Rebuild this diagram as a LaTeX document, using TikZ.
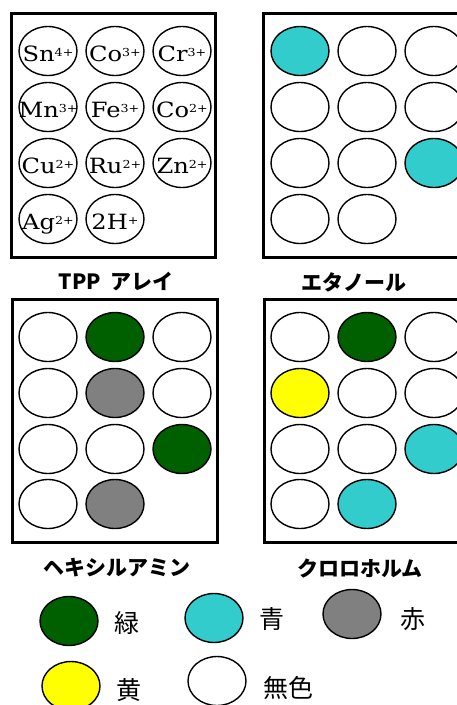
\documentclass[tikz,border=0pt]{standalone}
\usepackage{fontspec}
\setmainfont{DejaVu Serif}
\newfontfamily\ionfont[FakeStretch=1.15]{DejaVu Serif}
\newfontfamily\jp{Noto Sans CJK JP}
\usetikzlibrary{shapes.geometric}
\definecolor{cgreen}{RGB}{0,96,0}
\definecolor{ccyan}{RGB}{51,204,204}
\definecolor{cgray}{RGB}{128,128,128}
\definecolor{cyellow}{RGB}{255,255,0}
\newcommand\ionsup[1]{\raisebox{5pt}{\fontsize{11}{11}\selectfont #1}}
\begin{document}
\begin{tikzpicture}[x=1pt,y=-1pt,
  well/.style={draw=black,line width=1.4pt,ellipse,minimum width=58pt,minimum height=49pt,inner sep=0pt},
  plate/.style={draw=black,line width=3pt},
  ion/.style={inner sep=0pt,anchor=base,font=\ionfont\fontsize{21}{21}\selectfont},
  title/.style={inner sep=0pt,font=\jp\bfseries\fontsize{21}{21}\selectfont},
  legtxt/.style={inner sep=0pt,font=\jp\fontsize{25}{25}\selectfont}]
\useasboundingbox (0,0) rectangle (457,705);
\clip (0,0) rectangle (457,705);
\fill[white] (0,0) rectangle (457,705);

% plates
\draw[plate] (11,13) rectangle (215,257);
\draw[plate] (263,13) rectangle (468,257);
\draw[plate] (12,299) rectangle (217,542);
\draw[plate] (264,299) rectangle (469,542);

% plate 1: TPP array
\foreach \x/\y/\t [count=\i] in {
  48/51/{Sn\ionsup{4+}}, 115/51/{Co\ionsup{3+}}, 182/51/{Cr\ionsup{3+}},
  48/107/{Mn\ionsup{3+}}, 115/107/{Fe\ionsup{3+}}, 182/107/{Co\ionsup{2+}},
  48/163/{Cu\ionsup{2+}}, 115/163/{Ru\ionsup{2+}}, 182/163/{Zn\ionsup{2+}},
  48/219/{Ag\ionsup{2+}}, 115/219/{2H\ionsup{+}}}
{
  \node[well,fill=white] (a\i) at (\x,\y) {};
  \node[ion] (at\i) at (\x,\y+10.5) {\t};
}

% plate 2: ethanol
\foreach \x/\y/\f [count=\i] in {
  300/51/ccyan, 367/51/white, 434/51/white,
  300/107/white, 367/107/white, 434/107/white,
  300/163/white, 367/163/white, 434/163/ccyan,
  300/219/white, 367/219/white}
{ \node[well,fill=\f] (b\i) at (\x,\y) {}; }

% plate 3: hexylamine
\foreach \x/\y/\f [count=\i] in {
  48/337/white, 115/337/cgreen, 182/337/white,
  48/393/white, 115/393/cgray, 182/393/white,
  48/449/white, 115/449/white, 182/449/cgreen,
  48/504/white, 115/504/cgray}
{ \node[well,fill=\f] (c\i) at (\x,\y) {}; }

% plate 4: chloroform
\foreach \x/\y/\f [count=\i] in {
  300/337/white, 367/337/cgreen, 434/337/white,
  300/393/cyellow, 367/393/white, 434/393/white,
  300/449/white, 367/449/white, 434/449/ccyan,
  300/504/white, 367/504/ccyan}
{ \node[well,fill=\f] (d\i) at (\x,\y) {}; }

% titles
\node[title] (t1) at (116,282) {TPP\hspace{9pt}アレイ};
\node[title] (t2) at (354,282) {エタノール};
\node[title] (t3) at (117,568) {ヘキシルアミン};
\node[title] (t4) at (360,568) {クロロホルム};

% legend
\node[well,fill=cgreen] (lg) at (69,621) {};
\node[legtxt] (lgt) at (127,623) {緑};
\node[well,fill=ccyan] (lc) at (214,618) {};
\node[legtxt] (lct) at (272,619) {青};
\node[well,fill=cgray] (lr) at (352,614) {};
\node[legtxt] (lrt) at (413,619) {赤};
\node[well,fill=cyellow] (ly) at (71,686) {};
\node[legtxt] (lyt) at (129,690) {黄};
\node[well,fill=white] (lw) at (217,681) {};
\node[legtxt] (lwt) at (288,688) {無色};
\end{tikzpicture}
\end{document}
